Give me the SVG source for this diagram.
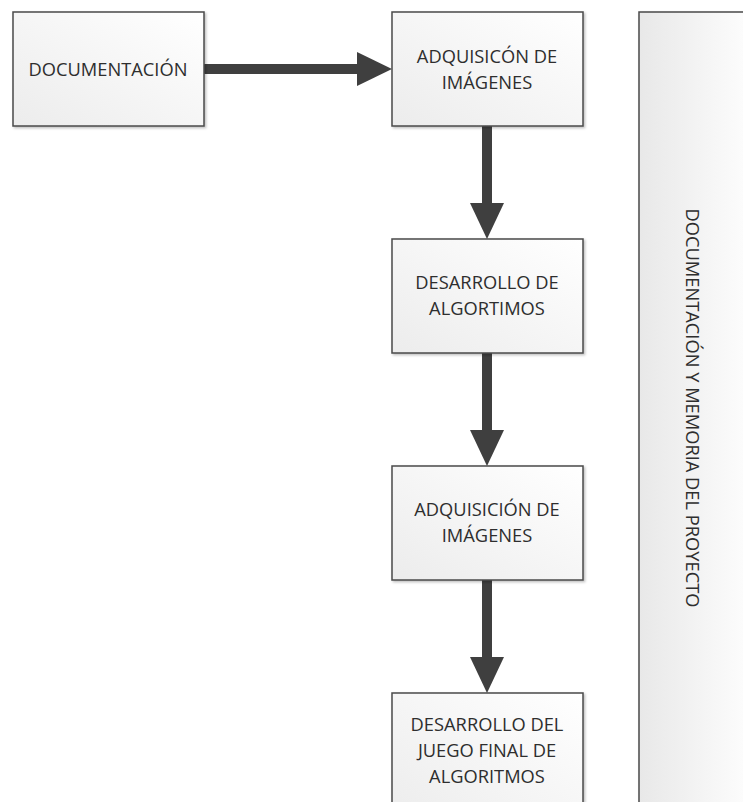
<svg xmlns="http://www.w3.org/2000/svg" width="743" height="802" viewBox="0 0 743 802">
<style>
.box{fill:url(#g);stroke:#4a4a4a;stroke-width:1.5}
.t{font-family:"Open Sans","Liberation Sans",sans-serif;font-size:18.3px;fill:#2e2e2e;text-anchor:middle}
.c{stroke:#3f3f3f;stroke-width:10;stroke-linecap:round;fill:none}
</style>
<defs>
<linearGradient id="g" x1="1" y1="0" x2="0" y2="1">
<stop offset="0" stop-color="#ffffff"/>
<stop offset="1" stop-color="#ececec"/>
</linearGradient>
<linearGradient id="gp" x1="0" y1="0" x2="1" y2="0">
<stop offset="0" stop-color="#e8e8e8"/>
<stop offset="1" stop-color="#ffffff"/>
</linearGradient>
<filter id="sh" x="-10%" y="-10%" width="130%" height="130%">
<feDropShadow dx="1.5" dy="1.5" stdDeviation="1.2" flood-color="#000" flood-opacity="0.25"/>
</filter>
</defs>
<rect width="743" height="802" fill="#ffffff"/>
<g id="panel">
<rect x="639" y="12" width="120" height="800" fill="url(#gp)" stroke="#4a4a4a" stroke-width="1.5" filter="url(#sh)"/>
<text class="t" transform="translate(692,408) rotate(90)" dy="6">DOCUMENTACIÓN Y MEMORIA DEL PROYECTO</text>
</g>
<g id="connectors">
<line class="c" x1="205" y1="69" x2="362" y2="69"/>
<polygon points="357,52 392,69 357,86" fill="#3f3f3f"/>
<line class="c" x1="487" y1="126" x2="487" y2="208"/>
<polygon points="470,203 487,239 504,203" fill="#3f3f3f"/>
<line class="c" x1="487" y1="353" x2="487" y2="435"/>
<polygon points="470,430 487,466 504,430" fill="#3f3f3f"/>
<line class="c" x1="487" y1="580" x2="487" y2="662"/>
<polygon points="470,657 487,693 504,657" fill="#3f3f3f"/>
</g>
<g id="n1">
<rect class="box" x="13" y="12" width="191" height="114" filter="url(#sh)"/>
<text class="t" x="108" y="76">DOCUMENTACIÓN</text>
</g>
<g id="n2">
<rect class="box" x="392" y="12" width="191" height="114" filter="url(#sh)"/>
<text class="t" x="487" y="63">ADQUISICÓN DE</text>
<text class="t" x="487" y="89">IMÁGENES</text>
</g>
<g id="n3">
<rect class="box" x="392" y="239" width="191" height="114" filter="url(#sh)"/>
<text class="t" x="487" y="289">DESARROLLO DE</text>
<text class="t" x="487" y="315">ALGORTIMOS</text>
</g>
<g id="n4">
<rect class="box" x="392" y="466" width="191" height="114" filter="url(#sh)"/>
<text class="t" x="487" y="516">ADQUISICIÓN DE</text>
<text class="t" x="487" y="542">IMÁGENES</text>
</g>
<g id="n5">
<rect class="box" x="392" y="693" width="191" height="130" filter="url(#sh)"/>
<text class="t" x="487" y="731">DESARROLLO DEL</text>
<text class="t" x="487" y="757">JUEGO FINAL DE</text>
<text class="t" x="487" y="783">ALGORITMOS</text>
</g>
</svg>
